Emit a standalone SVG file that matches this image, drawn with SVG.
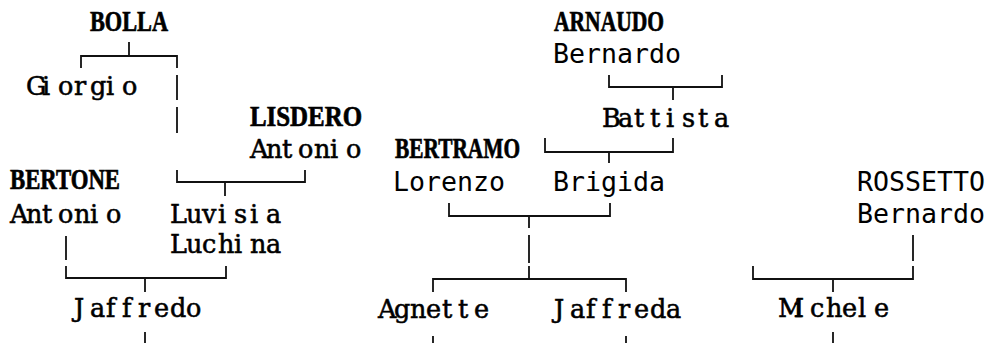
<svg xmlns="http://www.w3.org/2000/svg" width="987" height="343" viewBox="0 0 987 343">
<style>
.s{font-family:"DejaVu Serif","Liberation Serif",serif;font-size:25.5px;font-weight:400;fill:#000;stroke:#000;stroke-width:0.55px}
.c{font-family:"Liberation Serif","Times New Roman",serif;font-size:29px;font-weight:700;fill:#000;stroke:#000;stroke-width:0.7px}
.m{font-family:"DejaVu Sans Mono","Liberation Mono",monospace;font-size:26.6px;fill:#000}
.ln{fill:none;stroke:#111;stroke-width:1.8}
</style>
<rect width="987" height="343" fill="#fff"/>
<g id="connectors" class="ln">
<path d="M129,42V56M81,68V56H177V68M177,75V100M177,107V133"/>
<path d="M177,170V182H305V170M225,182V196"/>
<path d="M66,236V260M66,266V278H226V266M145,278V292M145,332V343"/>
<path d="M609,75V87H722V75M673,87V100"/>
<path d="M545,138V152H673V138M609,152V163"/>
<path d="M449,203V216H610V203M529,216V228M529,235V263M529,266V279M433,292V279H626V292M433,336V343M626,336V343"/>
<path d="M913,235V261M753,266V279H913V266M833,279V292M833,332V343"/>
</g>
<g id="bolla"><text class="c" x="90" y="31" textLength="78" lengthAdjust="spacingAndGlyphs">BOLLA</text></g>
<g id="giorgio"><text class="s" x="26 42 58 74 90 106 122" y="95">Giorgio</text></g>
<g id="lisdero"><text class="c" x="250" y="126" textLength="112" lengthAdjust="spacingAndGlyphs">LISDERO</text>
<text class="s" x="250 266 282 298 314 330 346" y="158">Antonio</text></g>
<g id="bertone"><text class="c" x="10" y="189" textLength="110" lengthAdjust="spacingAndGlyphs">BERTONE</text>
<text class="s" x="10 26 42 58 74 90 106" y="223">Antonio</text></g>
<g id="luvisia"><text class="s" x="170 186 202 218 234 250 266" y="223">Luvisia</text>
<text class="s" x="170 186 202 218 234 250 266" y="253">Luchina</text></g>
<g id="jaffredo"><text class="s" x="74 90 106 122 138 154 170 186" y="317">Jaffredo</text></g>
<g id="arnaudo"><text class="c" x="554" y="31" textLength="110" lengthAdjust="spacingAndGlyphs">ARNAUDO</text>
<text class="m" x="553" y="63">Bernardo</text></g>
<g id="battista"><text class="s" x="602 618 634 650 666 682 698 714" y="127">Battista</text></g>
<g id="bertramo"><text class="c" x="395" y="158" textLength="125" lengthAdjust="spacingAndGlyphs">BERTRAMO</text>
<text class="m" x="393" y="191">Lorenzo</text></g>
<g id="brigida"><text class="m" x="553" y="191">Brigida</text></g>
<g id="rossetto"><text class="m" x="857" y="191">ROSSETTO</text>
<text class="m" x="857" y="223">Bernardo</text></g>
<g id="agnette"><text class="s" x="378 394 410 426 442 458 474" y="318">Agnette</text></g>
<g id="jaffreda"><text class="s" x="554 570 586 602 618 634 650 666" y="318">Jaffreda</text></g>
<g id="michele"><text class="s" x="778 794 810 826 842 858 874" y="317">Michele</text></g>
</svg>
